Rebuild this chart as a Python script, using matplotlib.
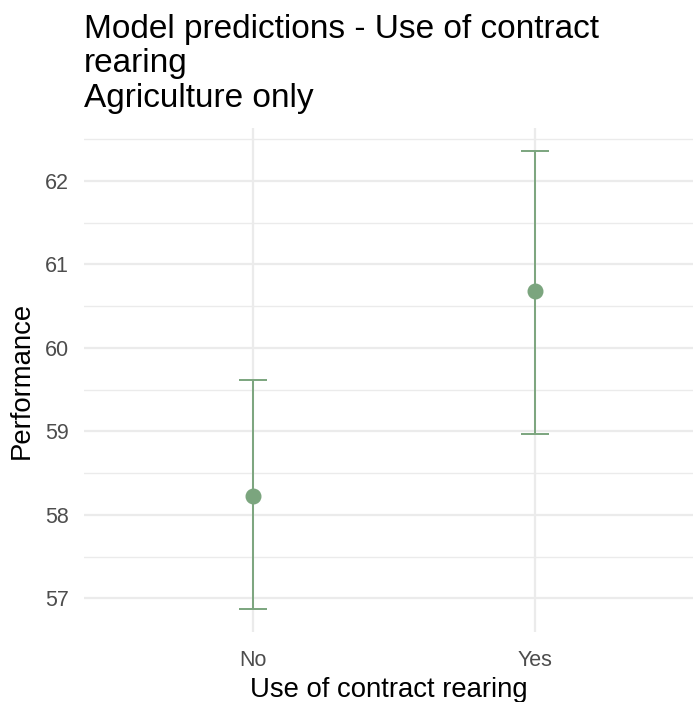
import numpy as np
import matplotlib
matplotlib.use("Agg")
import matplotlib.pyplot as plt

# values
categories = ["No", "Yes"]
predicted = [58.23, 60.68]
ci_low = [56.87, 58.97]
ci_high = [59.61, 62.36]

title = "Model predictions - Use of contract\nrearing\nAgriculture only"
x_label = "Use of contract rearing"
y_label = "Performance"

plt.rcParams["font.family"] = ["Liberation Sans", "DejaVu Sans"]

green = "#7BA57E"
grid_col = "#EBEBEB"

fig = plt.figure(figsize=(6.93, 7.02), dpi=100)
ax = fig.add_axes([84 / 693, 70 / 702, 1 - 84 / 693, 504 / 702])

x = np.arange(1, len(categories) + 1)
pred = np.array(predicted)
yerr = [pred - np.array(ci_low), np.array(ci_high) - pred]

ax.errorbar(x, pred, yerr=yerr, fmt="none", ecolor=green, elinewidth=1.4,
            capsize=10, capthick=1.4, zorder=3)
ax.plot(x, pred, "o", color=green, markersize=10.5, zorder=4)

# ggplot-style limits (5% expansion on y, 0.6 on discrete x)
span = max(ci_high) - min(ci_low)
ax.set_ylim(min(ci_low) - 0.05 * span, max(ci_high) + 0.05 * span)
ax.set_xlim(0.4, 0.4 + 609 / 282)

ax.set_xticks(x)
ax.set_xticklabels(categories)
ax.set_yticks(np.arange(57, 63))
ax.set_yticks(np.arange(57.5, 63, 1), minor=True)

ax.tick_params(axis="both", which="both", length=0, labelsize=15.5, labelcolor="#4D4D4D")
ax.tick_params(axis="y", pad=11)
ax.tick_params(axis="x", pad=13)

ax.grid(True, which="major", color=grid_col, linewidth=1.6, zorder=0)
ax.grid(True, which="minor", axis="y", color=grid_col, linewidth=1.0, zorder=0)
ax.set_axisbelow(True)
for s in ax.spines.values():
    s.set_visible(False)

ax.set_xlabel(x_label, fontsize=19.8, labelpad=4)
ax.set_ylabel(y_label, fontsize=19.8, labelpad=7)

fig.text(84 / 693, 1 - 14 / 702, title, fontsize=24, ha="left", va="top",
         linespacing=1.14)

fig.savefig("out.png", dpi=100)
